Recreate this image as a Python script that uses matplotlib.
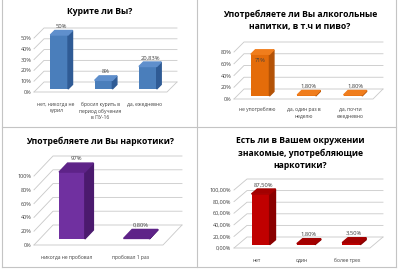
import numpy as np
import matplotlib
matplotlib.use('Agg')
import matplotlib.pyplot as plt
from matplotlib.patches import Polygon
from matplotlib.lines import Line2D

plt.rcParams['font.family'] = ['Open Sans', 'DejaVu Sans']

W, H = 400, 269

# ---------------- data ----------------
smoke_title = 'Курите ли Вы?'
smoke_cats = ['нет, никогда не\nкурил', 'бросил курить в\nпериод обучения\nв ПУ-16', 'да, ежедневно']
smoke_vals = [50, 8, 20.83]
smoke_labels = ['50%', '8%', '20,83%']
smoke_ticks = [0, 10, 20, 30, 40, 50]
smoke_ticklabels = ['0%', '10%', '20%', '30%', '40%', '50%']

alco_title = 'Употребляете ли Вы алкогольные\nнапитки, в т.ч и пиво?'
alco_cats = ['не употребляю', 'да, один раз в\nнеделю', 'да, почти\nежедневно']
alco_vals = [71, 1.8, 1.8]
alco_labels = ['71%', '1,80%', '1,80%']
alco_ticks = [0, 20, 40, 60, 80]
alco_ticklabels = ['0%', '20%', '40%', '60%', '80%']

drug_title = 'Употребляете ли Вы наркотики?'
drug_cats = ['никогда не пробовал', 'пробовал 1 раз']
drug_vals = [97, 0.8]
drug_labels = ['97%', '0,80%']
drug_ticks = [0, 20, 40, 60, 80, 100]
drug_ticklabels = ['0%', '20%', '40%', '60%', '80%', '100%']

env_title = 'Есть ли в Вашем окружении\nзнакомые, употребляющие\nнаркотики?'
env_cats = ['нет', 'один', 'более трех']
env_vals = [87.5, 1.8, 3.5]
env_labels = ['87,50%', '1,80%', '3,50%']
env_ticks = [0, 20, 40, 60, 80, 100]
env_ticklabels = ['0,00%', '20,00%', '40,00%', '60,00%', '80,00%', '100,00%']

fig = plt.figure(figsize=(W / 100, H / 100), dpi=100)
fig.patch.set_facecolor('white')


def px_line(x0, y0, x1, y1):
    fig.add_artist(Line2D([x0 / W, x1 / W], [1 - y0 / H, 1 - y1 / H],
                          color='#c4c4c4', lw=0.8, transform=fig.transFigure))


def panel(box, cats, vals, labels, ticks, ticklabels, colors, depth,
          inside=(), pad=5):
    # box = left, right, bottom(0%), top(max tick) in pixels
    l, r, b, t = box
    ax = fig.add_axes([l / W, 1 - b / H, (r - l) / W, (b - t) / H])
    n = len(cats)
    ymax = ticks[-1]
    ax.set_xlim(-0.5, n - 0.5)
    ax.set_ylim(0, ymax)
    dx = depth[0] / (r - l) * n
    dy = depth[1] / (b - t) * ymax
    x0, x1 = -0.5, n - 0.5

    # walls / grid
    for v in ticks:
        ax.plot([x0, x0 + dx, x1 + dx], [v, v + dy, v + dy],
                color='#c8c8c8', lw=0.6, clip_on=False, zorder=1)
    ax.plot([x0, x1, x1 + dx], [0, 0, dy], color='#c8c8c8', lw=0.6,
            clip_on=False, zorder=1)

    front, topc, side = colors
    w = 0.4
    f0, bd = 0.3, 0.45
    xs = np.arange(n) + f0 * dx
    base = f0 * dy
    ax.bar(xs, vals, width=w, bottom=base, color=front, zorder=3,
           clip_on=False)
    for i, v in enumerate(vals):
        xl, xr = xs[i] - w / 2, xs[i] + w / 2
        top = base + v
        ax.add_patch(Polygon([(xr, base), (xr + bd * dx, base + bd * dy),
                              (xr + bd * dx, top + bd * dy), (xr, top)],
                             closed=True, color=side, zorder=3, clip_on=False))
        ax.add_patch(Polygon([(xl, top), (xr, top),
                              (xr + bd * dx, top + bd * dy),
                              (xl + bd * dx, top + bd * dy)],
                             closed=True, color=topc, zorder=4, clip_on=False))
        if i in inside:
            ax.text(xs[i], top - 0.13 * ymax, labels[i], ha='center',
                    va='center', fontsize=4, color='#404040', zorder=5)
        else:
            ax.text(xs[i] + bd * dx / 2, top + bd * dy + 0.03 * ymax,
                    labels[i], ha='center', va='bottom', fontsize=4.2,
                    color='#404040', zorder=5, clip_on=False)

    ax.set_yticks(ticks)
    ax.set_yticklabels(ticklabels, fontsize=4, color='#404040')
    ax.set_xticks(np.arange(n))
    ax.set_xticklabels(cats, fontsize=3.6, color='#404040', linespacing=1.35,
                       va='top')
    ax.tick_params(axis='y', length=0, pad=2)
    ax.tick_params(axis='x', length=0, pad=pad)
    for s in ax.spines.values():
        s.set_visible(False)
    ax.patch.set_alpha(0)
    return ax


# panel borders
px_line(2, 0, 2, 267)
px_line(197, 0, 197, 267)
px_line(396, 0, 396, 267)
px_line(2, 127, 396, 127)
px_line(2, 267, 396, 267)

panel((34, 167, 92, 38), smoke_cats, smoke_vals, smoke_labels,
      smoke_ticks, smoke_ticklabels, ('#4a7ebb', '#5f8fcc', '#2f5b95'), (10, 10),
      pad=7)
fig.text(100 / W, 1 - 12 / H, smoke_title, ha='center', va='center',
         fontsize=6.2, fontweight='bold')

panel((234, 373, 99, 52), alco_cats, alco_vals, alco_labels,
      alco_ticks, alco_ticklabels, ('#e46c0a', '#f07d1c', '#b35206'), (10, 10),
      inside=(0,), pad=6)
fig.text(300 / W, 1 - 20 / H, alco_title, ha='center', va='center',
         fontsize=6.2, fontweight='bold', linespacing=1.45)

panel((34, 163, 245, 176), drug_cats, drug_vals, drug_labels,
      drug_ticks, drug_ticklabels, ('#7030a0', '#5e2388', '#4b1a6e'), (19, 20),
      pad=7)
fig.text(100 / W, 1 - 141 / H, drug_title, ha='center', va='center',
         fontsize=6.2, fontweight='bold')

panel((234, 370, 248, 190), env_cats, env_vals, env_labels,
      env_ticks, env_ticklabels, ('#c00000', '#a30000', '#8a0000'), (13, 11),
      pad=7)
fig.text(300 / W, 1 - 153 / H, env_title, ha='center', va='center',
         fontsize=6.2, fontweight='bold', linespacing=1.45)

fig.savefig('out.png', dpi=100)
